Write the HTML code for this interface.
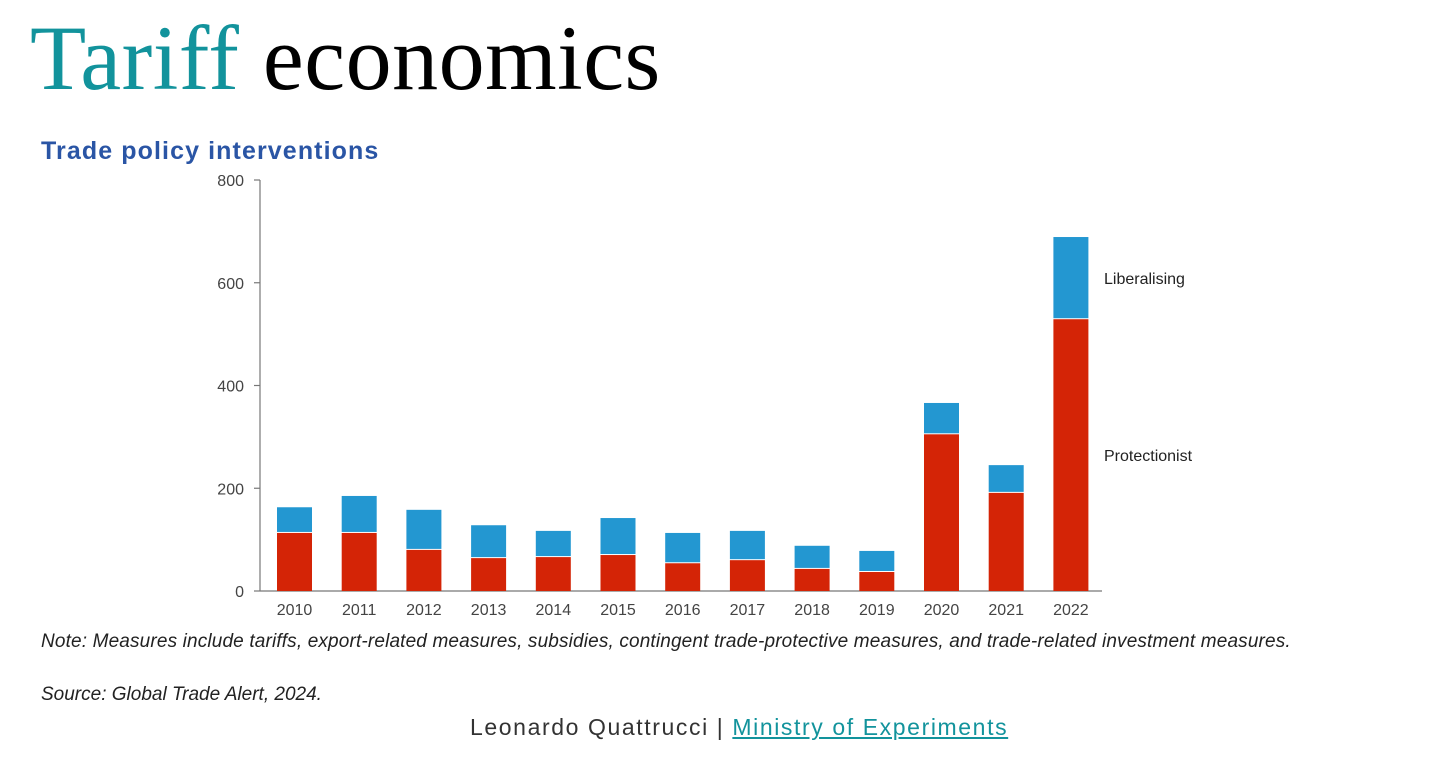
<!DOCTYPE html>
<html><head><meta charset="utf-8"><style>
body{margin:0;background:#fff;width:1456px;height:769px;overflow:hidden;position:relative;font-family:"Liberation Sans",sans-serif}
.abs{position:absolute;white-space:nowrap}
</style></head><body>
<div class="abs" style="left:30px;top:4px;font-family:'Liberation Serif',serif;font-size:92px;line-height:108px;color:#000;letter-spacing:0.5px"><span style="color:#12939c">Tariff</span> economics</div>
<div class="abs" style="left:41px;top:137px;font-size:25px;font-weight:bold;color:#2a55a5;letter-spacing:1.1px">Trade policy interventions</div>
<svg id="chart" width="1456" height="769" style="position:absolute;left:0;top:0"></svg>
<div class="abs" style="left:41px;top:631px;font-size:19px;font-style:italic;color:#222;letter-spacing:0.15px">Note: Measures include tariffs, export-related measures, subsidies, contingent trade-protective measures, and trade-related investment measures.</div>
<div class="abs" style="left:41px;top:684px;font-size:19px;font-style:italic;color:#222;letter-spacing:0px">Source: Global Trade Alert, 2024.</div>
<div class="abs" style="left:470px;top:714px;font-size:23px;color:#333;letter-spacing:1.6px">Leonardo Quattrucci | <a style="color:#12939c;text-decoration:underline">Ministry of Experiments</a></div>
<script>
const years=["2010","2011","2012","2013","2014","2015","2016","2017","2018","2019","2020","2021","2022"];
const protectionist=[113,113,80,64,66,70,54,60,43,37,305,191,529];
const liberalising=[50,72,78,64,51,72,59,57,45,41,61,54,160];
const yTicks=[0,200,400,600,800];
const svg=document.getElementById('chart');
const NS='http://www.w3.org/2000/svg';
const y0=591,y1=180,yMax=800;
const yS=v=>y0-(v/yMax)*(y0-y1);
const xS=i=>294.5+i*64.7;
const bw=35;
function mk(t,a){const e=document.createElementNS(NS,t);for(const k in a)e.setAttribute(k,a[k]);svg.appendChild(e);return e;}
let ax=mk('line',{x1:260,y1:y1,x2:260,y2:y0,stroke:'#777','stroke-width':1.2});


let xa=mk('line',{x1:260,y1:y0,x2:1102,y2:y0,stroke:'#777','stroke-width':1.2});


yTicks.forEach(v=>{
  const tk=mk('line',{x1:254,y1:yS(v),x2:260,y2:yS(v),stroke:'#777','stroke-width':1.2});
  
  
  const t=mk('text',{x:244,y:yS(v)+6,'text-anchor':'end','font-size':16,fill:'#444','font-family':'Liberation Sans, sans-serif'});
  t.textContent=v;
  
  
});
years.forEach((yr,i)=>{
  const x=xS(i)-bw/2;
  const r=mk('rect',{x:x,y:yS(protectionist[i]),width:bw,height:y0-yS(protectionist[i]),fill:'#d42406'});
  
  
  const tot=protectionist[i]+liberalising[i];
  const b=mk('rect',{x:x,y:yS(tot),width:bw,height:yS(protectionist[i])-yS(tot)-1,fill:'#2397d1'});
  
  
  const t=mk('text',{x:xS(i),y:615,'text-anchor':'middle','font-size':16,fill:'#444','font-family':'Liberation Sans, sans-serif'});
  t.textContent=yr;
  
  
});
const l1=mk('text',{x:1104,y:284,'font-size':16,fill:'#222','font-family':'Liberation Sans, sans-serif'});
l1.textContent='Liberalising';


const l2=mk('text',{x:1104,y:461,'font-size':16,fill:'#222','font-family':'Liberation Sans, sans-serif'});
l2.textContent='Protectionist';


</script>
</body></html>
